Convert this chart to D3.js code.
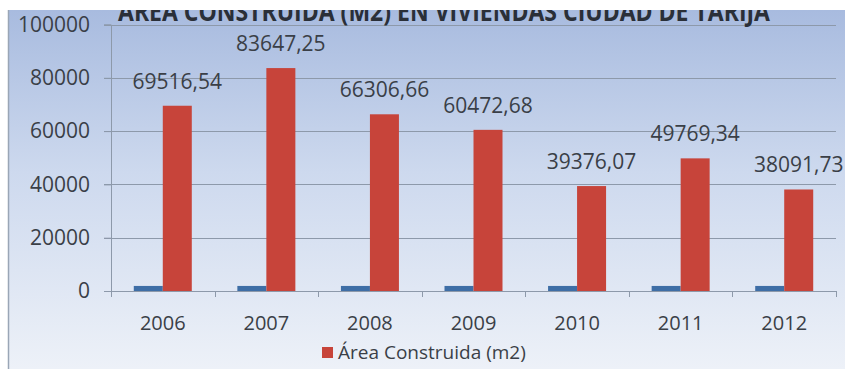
<!DOCTYPE html>
<html><head><meta charset="utf-8">
<script src="https://cdn.jsdelivr.net/npm/d3@7"></script>
<style>html,body{margin:0;padding:0;background:#fff;}svg{display:block;}</style>
</head><body>
<svg id="chart" width="845" height="369"></svg>
<script>
const categories = ["2006","2007","2008","2009","2010","2011","2012"];
const areaValues = [69516.54, 83647.25, 66306.66, 60472.68, 39376.07, 49769.34, 38091.73];
const blueValues = [1900, 1900, 1900, 1900, 1900, 1900, 1900];
const yTicks = [0, 20000, 40000, 60000, 80000, 100000];
const labels = ["69516,54","83647,25","66306,66","60472,68","39376,07","49769,34","38091,73"];
const legendLabel = "Área Construida (m2)";
const titleText = "ÁREA CONSTRUIDA (M2) EN VIVIENDAS CIUDAD DE TARIJA";

const svg = d3.select("#chart");
const font = "'Open Sans', sans-serif";

const defs = svg.append("defs");
const g1 = defs.append("linearGradient").attr("id","bg").attr("x1",0).attr("y1",0).attr("x2",0).attr("y2",1);
g1.append("stop").attr("offset","0%").attr("stop-color","#a8bbdf");
g1.append("stop").attr("offset","45%").attr("stop-color","#cdd9ee");
g1.append("stop").attr("offset","100%").attr("stop-color","#edf1f8");

svg.append("rect").attr("x",8).attr("y",10).attr("width",837).attr("height",359).attr("fill","url(#bg)");
svg.append("line").attr("x1",8.5).attr("x2",8.5).attr("y1",10).attr("y2",369).attr("stroke","#9aa6b6").attr("stroke-width",1.5);

const x0 = d3.scaleBand().domain(categories).range([111, 836]).paddingInner(0.44).paddingOuter(0.22);
const x1 = d3.scaleBand().domain(["blue","red"]).range([0, x0.bandwidth()]);
const y = d3.scaleLinear().domain([0, 100000]).range([291, 24.5]);

// gridlines
svg.append("g").selectAll("line").data(yTicks.filter(d=>d>0)).join("line")
  .attr("x1",104).attr("x2",836).attr("y1",d=>Math.round(y(d))+0.5).attr("y2",d=>Math.round(y(d))+0.5)
  .attr("stroke","#8d99aa").attr("stroke-width",1);

// y axis
const yAxis = d3.axisLeft(y).tickValues(yTicks).tickFormat(d3.format("d")).tickSize(7).tickPadding(14);
const ya = svg.append("g").attr("transform","translate(111,0)").call(yAxis);
ya.select(".domain").attr("stroke","#8d99aa");
ya.selectAll(".tick line").attr("stroke","#8d99aa");
ya.selectAll("text").attr("font-family",font).attr("font-size",21).attr("fill","#3a3f47");

// x axis
const xAxis = d3.axisBottom(x0).tickSize(0).tickPadding(25);
const xa = svg.append("g").attr("transform","translate(0,291)").call(xAxis);
xa.select(".domain").attr("stroke","#8d99aa");
xa.selectAll("text").attr("font-family",font).attr("font-size",20).attr("fill","#3a3f47");
// category boundary ticks
const bounds = categories.map(c => x0(c) - x0.step()*x0.paddingInner()/2).concat([836]);
svg.append("g").selectAll("line").data(bounds).join("line")
  .attr("x1",d=>Math.round(d)+0.5).attr("x2",d=>Math.round(d)+0.5).attr("y1",291).attr("y2",297)
  .attr("stroke","#8d99aa");

// bars
const grp = svg.append("g").selectAll("g").data(categories).join("g")
  .attr("transform",d=>`translate(${x0(d)},0)`);
grp.append("rect").attr("x",x1("blue")).attr("width",x1.bandwidth())
  .attr("y",(d,i)=>y(blueValues[i])).attr("height",(d,i)=>y(0)-y(blueValues[i])).attr("fill","#3e6ea6");
grp.append("rect").attr("x",x1("red")).attr("width",x1.bandwidth())
  .attr("y",(d,i)=>y(areaValues[i])).attr("height",(d,i)=>y(0)-y(areaValues[i])).attr("fill","#c7443a");
grp.append("text").attr("x",x1("red")+x1.bandwidth()/2).attr("y",(d,i)=>y(areaValues[i])-17)
  .attr("text-anchor","middle").attr("font-family",font).attr("font-size",21).attr("fill","#3a3f47")
  .text((d,i)=>labels[i]);

// title (top cut off)
svg.append("text").attr("x",118).attr("y",21).attr("font-family",font).attr("font-weight","bold")
  .attr("font-size",27).attr("fill","#2a2f38").attr("textLength",652).attr("lengthAdjust","spacingAndGlyphs")
  .text(titleText);
svg.append("rect").attr("x",0).attr("y",0).attr("width",845).attr("height",10).attr("fill","#fff");

// legend
svg.append("rect").attr("x",322).attr("y",347).attr("width",11).attr("height",11).attr("fill","#c7443a");
svg.append("text").attr("x",338).attr("y",359).attr("font-family",font).attr("font-size",19).attr("fill","#3a3f47").text(legendLabel);
</script>
</body></html>
